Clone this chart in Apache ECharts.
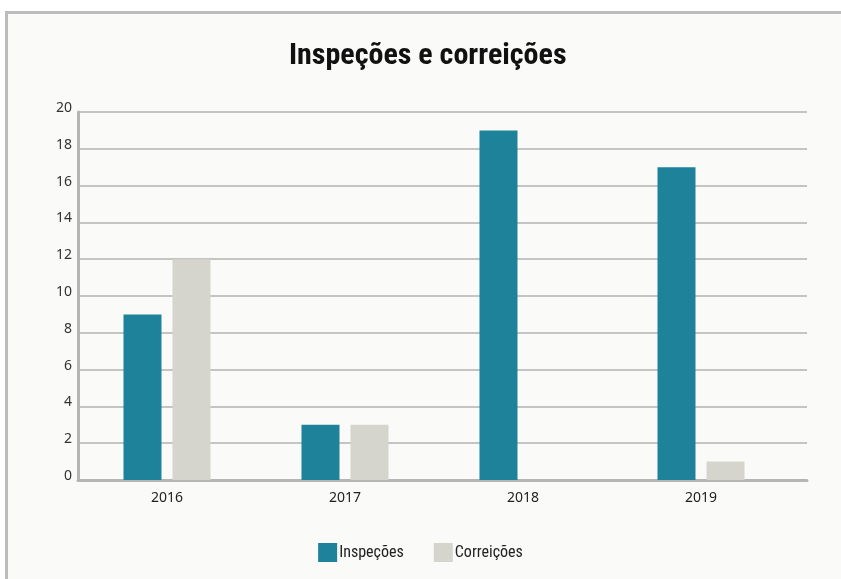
<!DOCTYPE html>
<html><head><meta charset="utf-8">
<script src="https://cdn.jsdelivr.net/npm/echarts@6/dist/echarts.min.js"></script>
<style>
html,body{margin:0;padding:0;background:#fff;}
#wrap{position:relative;width:841px;height:579px;overflow:hidden;background:#fff;}
#frame{position:absolute;left:5px;top:11px;width:900px;height:700px;border:3px solid #bcbcbc;background:#fafaf9;}
#chart{position:absolute;left:0;top:0;width:841px;height:579px;}
</style></head>
<body>
<div id="wrap"><div id="frame"></div><div id="chart"></div></div>
<script>
const categories = ['2016','2017','2018','2019'];
const inspecoes = [9, 3, 19, 17];
const correicoes = [12, 3, 0, 1];
const yMin = 0, yMax = 20, yStep = 2;

const font = "'Liberation Sans Narrow','Roboto Condensed','Noto Sans',sans-serif";
const chart = echarts.init(document.getElementById('chart'), null, {renderer:'canvas'});
chart.setOption({
  animation: false,
  backgroundColor: 'transparent',
  title: {
    text: 'Inspeções e correições', left: 284, top: 36,
    textStyle: {fontFamily: font, fontWeight: 'bold', fontSize: 30, color: '#111'}
  },
  legend: {
    data: ['Inspeções','Correições'], left: 'center', top: 538,
    itemWidth: 19, itemHeight: 19, itemGap: 30, icon: 'rect',
    textStyle: {fontFamily: font, fontSize: 16, color: '#222', padding: [0,0,0,-3]}
  },
  grid: [
    {left: 78, right: 51, top: 112, bottom: 99},
    {left: 78, right: 34, top: 112, bottom: 99}
  ],
  xAxis: [
    {type: 'category', data: categories, gridIndex: 0,
     axisLine: {show: false}, axisTick: {show: false},
     axisLabel: {color: '#222', fontSize: 14, margin: 11, fontFamily: "'Noto Sans',sans-serif"}},
    {type: 'value', gridIndex: 1, min: 0, max: 1,
     axisLine: {show: true, onZero: false, lineStyle: {color: '#b5b5b5', width: 3}},
     axisTick: {show: false}, axisLabel: {show: false}, splitLine: {show: false}}
  ],
  yAxis: [
    {type: 'value', gridIndex: 0, min: yMin, max: yMax, interval: yStep,
     axisLabel: {show: false}, axisLine: {show: false}, axisTick: {show: false}, splitLine: {show: false}},
    {type: 'value', gridIndex: 1, min: yMin, max: yMax, interval: yStep,
     axisLine: {show: true, lineStyle: {color: '#b5b5b5', width: 3}},
     axisTick: {show: false},
     axisLabel: {color: '#333', fontSize: 14, margin: 6, fontFamily: "'Noto Sans',sans-serif",
                 verticalAlign: 'bottom', lineHeight: 8},
     splitLine: {show: true, lineStyle: {color: '#c4c4c4', width: 2}}}
  ],
  series: [
    {name: 'Inspeções', type: 'bar', xAxisIndex: 0, yAxisIndex: 0, data: inspecoes,
     barWidth: 38, barGap: '29%', itemStyle: {color: '#1f829b'}, z: 5},
    {name: 'Correições', type: 'bar', xAxisIndex: 0, yAxisIndex: 0, data: correicoes,
     barWidth: 38, barGap: '29%', itemStyle: {color: '#d5d5ce'}, z: 5}
  ]
});
</script>
</body></html>
